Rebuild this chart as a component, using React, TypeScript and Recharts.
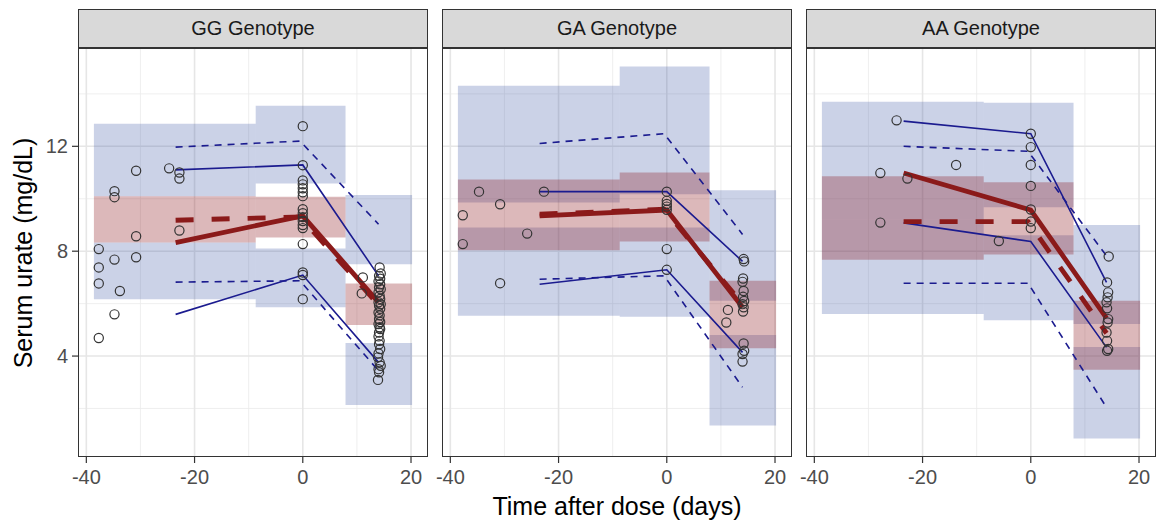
// Faceted VPC panels (GG / GA / AA genotype): serum urate vs time after dose.
// Blue boxes = CI of 5th/95th percentiles, red = CI of median; lines = obs (solid) / sim (dashed).

import {
  ComposedChart, XAxis, YAxis, CartesianGrid, ReferenceArea, Line, Scatter,
} from "recharts";

const FONT = '"Liberation Sans", Arial, Helvetica, sans-serif';
const BLUE_FILL = "#2E4A9E";
const RED_FILL = "#8C1419";
const LINE_RED = "#8B1A1A";
const LINE_BLUE = "#1B1B8F";

const X_DOMAIN = [-41.54, 23.14];
const Y_DOMAIN = [0.15, 15.75];
const X_TICKS = [-40, -20, 0, 20];
const Y_TICKS = [4, 8, 12];
const X_MINOR = [-30, -10, 10];
const Y_MINOR = [2, 6, 10, 14];

// bin edges shared by all panels
const BIN_EDGES = [-38.6, -8.7, 7.9, 20.2];

// x of the percentile line vertices
const OBS_TIMES = [-23.5, 0, 14];
const SIM_TIMES = [-23.5, -0.5, 14];

// ---- GG ----
const ggUpperBand = [[12.86, 10.1], [13.55, 10.58], [10.14, 7.5]];
const ggMedianBand = [[10.1, 8.33], [10.08, 8.52], [6.77, 5.18]];
const ggLowerBand = [[8.33, 6.17], [8.1, 5.86], [4.5, 2.13]];
const ggObsP95 = [11.1, 11.29, 7.06];
const ggObsP50 = [8.33, 9.35, 6.05];
const ggObsP05 = [5.59, 7.09, 3.76];
const ggSimP95 = [11.97, 12.2, 9.03];
const ggSimP50 = [9.18, 9.31, 5.95];
const ggSimP05 = [6.82, 6.87, 3.44];
const ggObs = [
  [-37.7, 4.69], [-37.7, 6.77], [-37.7, 7.38], [-37.7, 8.08],
  [-34.8, 10.29], [-34.8, 10.06], [-34.8, 7.68], [-34.8, 5.59], [-33.8, 6.48],
  [-30.8, 11.07], [-30.8, 8.57], [-30.8, 7.77],
  [-24.7, 11.16], [-22.8, 11.0], [-22.8, 10.77], [-22.8, 8.79],
  [0, 12.77], [0, 11.28], [0, 10.7], [0, 10.55], [0, 10.4], [0, 10.25], [0, 10.1],
  [0, 9.6], [0, 9.45], [0, 9.3], [0, 9.15], [0, 9.0], [0, 8.88], [0, 8.27],
  [0, 7.19], [0, 7.09], [0, 6.17],
  [11.1, 7.0], [10.9, 6.39],
  [14.2, 7.38], [14.4, 7.15], [14.1, 7.06], [14.3, 6.95], [14.0, 6.85], [14.3, 6.74],
  [14.1, 6.62], [14.4, 6.55], [14.0, 6.43], [14.2, 6.3], [14.3, 6.18], [14.0, 6.05],
  [14.4, 5.98], [14.1, 5.92], [14.3, 5.8], [14.0, 5.66], [14.2, 5.55], [14.1, 5.41],
  [14.3, 5.3], [14.0, 5.22], [14.2, 5.1], [14.3, 5.03], [14.1, 4.9], [14.0, 4.75],
  [14.2, 4.58], [14.1, 4.45], [14.3, 4.27], [14.0, 4.1], [13.9, 3.95], [14.2, 3.76],
  [14.4, 3.63], [14.0, 3.5], [14.1, 3.38], [13.9, 3.09],
];

// ---- GA ----
const gaUpperBand = [[14.31, 9.86], [15.04, 10.17], [10.32, 6.11]];
const gaMedianBand = [[10.73, 8.04], [11.0, 8.37], [6.87, 4.3]];
const gaLowerBand = [[8.9, 5.54], [8.9, 5.5], [4.8, 1.35]];
const gaObsP95 = [10.27, 10.27, 7.61];
const gaObsP50 = [9.35, 9.57, 5.86];
const gaObsP05 = [6.74, 7.29, 4.14];
const gaSimP95 = [12.11, 12.48, 8.64];
const gaSimP50 = [9.41, 9.6, 5.98];
const gaSimP05 = [6.93, 7.06, 2.81];
const gaObs = [
  [-37.7, 9.37], [-37.7, 8.27], [-34.7, 10.27], [-30.8, 9.79], [-30.8, 6.78],
  [-25.8, 8.67], [-22.7, 10.27],
  [0, 10.27], [0, 9.92], [0, 9.8], [0, 9.7], [0, 9.58], [0, 8.08], [0, 7.29],
  [11.3, 5.76], [11.0, 5.28],
  [14.2, 7.7], [14.3, 7.61], [14.1, 6.96], [14.0, 6.83], [14.2, 6.48], [14.1, 6.26],
  [14.3, 6.1], [14.0, 5.98], [14.2, 5.86], [14.1, 5.7], [14.2, 4.48], [14.3, 4.2],
  [14.0, 4.08], [14.0, 3.79],
];

// ---- AA ----
const aaUpperBand = [[13.7, 9.2], [13.66, 9.68], [9.0, 5.22]];
const aaMedianBand = [[10.86, 7.67], [10.63, 7.87], [6.11, 3.48]];
const aaLowerBand = [[9.2, 5.6], [8.61, 5.37], [4.35, 0.86]];
const aaObsP95 = [12.96, 12.48, 6.81];
const aaObsP50 = [10.98, 9.57, 5.45];
const aaObsP05 = [9.08, 8.37, 4.33];
const aaSimP95 = [12.0, 11.81, 7.82];
const aaSimP50 = [9.13, 9.13, 4.87];
const aaSimP05 = [6.78, 6.78, 2.04];
const aaObs = [
  [-24.8, 12.99], [-27.8, 10.98], [-27.8, 9.09], [-22.8, 10.77], [-13.8, 11.29],
  [-5.9, 8.39],
  [0, 12.48], [0, 11.97], [0, 11.29], [0, 10.49], [0, 9.59], [0, 9.13], [0, 8.88],
  [14.4, 7.8], [14.1, 6.81], [14.3, 6.43], [14.2, 6.24], [14.0, 6.05], [14.1, 5.82],
  [14.3, 5.41], [14.2, 5.28], [14.0, 4.9], [14.1, 4.58], [14.3, 4.27], [14.1, 4.2],
];

const PANELS = [
  { title: "GG Genotype", upper: ggUpperBand, median: ggMedianBand, lower: ggLowerBand, obs: ggObs,
    lines: [ggObsP95, ggObsP50, ggObsP05, ggSimP95, ggSimP50, ggSimP05] },
  { title: "GA Genotype", upper: gaUpperBand, median: gaMedianBand, lower: gaLowerBand, obs: gaObs,
    lines: [gaObsP95, gaObsP50, gaObsP05, gaSimP95, gaSimP50, gaSimP05] },
  { title: "AA Genotype", upper: aaUpperBand, median: aaMedianBand, lower: aaLowerBand, obs: aaObs,
    lines: [aaObsP95, aaObsP50, aaObsP05, aaSimP95, aaSimP50, aaSimP05] },
];

const PLOT_TOP = 48;
const PLOT_H = 409;
const PLOT_W = 350;
const PANEL_LEFT = [78, 442, 806];
const X_AXIS_H = 521 - PLOT_TOP - PLOT_H;
const SIDE = 20; // room for edge tick labels

const toPts = (times: number[], ys: number[]) => times.map((x, i) => ({ x, y: ys[i] }));

function Circle(props: any) {
  const { cx, cy } = props;
  if (cx == null || cy == null) return null;
  return <circle cx={cx} cy={cy} r={4.6} fill="none" stroke="#333" strokeWidth={1.2} />;
}

function Panel({ idx }: { idx: number }) {
  const p = PANELS[idx];
  const first = idx === 0;
  const leftSpace = first ? 78 : SIDE;
  const chartLeft = PANEL_LEFT[idx] - leftSpace;
  const width = leftSpace + PLOT_W + SIDE;
  const obsData = p.obs.map(([x, y]) => ({ x, y }));
  const [oHi, oMed, oLo, sHi, sMed, sLo] = p.lines;
  const bands: Array<[number[][], string, number]> = [
    [p.upper, BLUE_FILL, 0.25],
    [p.lower, BLUE_FILL, 0.25],
    [p.median, RED_FILL, 0.3],
  ];
  return (
    <>
      <div style={{
        position: "absolute", left: PANEL_LEFT[idx], top: 9, width: PLOT_W, height: PLOT_TOP - 9,
        boxSizing: "border-box", background: "#D9D9D9", border: "1.3px solid #333",
        display: "flex", alignItems: "center", justifyContent: "center",
        fontFamily: FONT, fontSize: 20, color: "#1A1A1A",
      }}>{p.title}</div>
      <div style={{ position: "absolute", left: chartLeft, top: 0 }}>
        <ComposedChart width={width} height={521} margin={{ top: PLOT_TOP, right: SIDE, left: first ? 0 : SIDE, bottom: 0 }}>
          <CartesianGrid stroke="#EBEBEB" strokeWidth={0.8} horizontalValues={Y_MINOR} verticalValues={X_MINOR} />
          <CartesianGrid stroke="#E6E6E6" strokeWidth={1.6} horizontalValues={Y_TICKS} verticalValues={X_TICKS} />
          <XAxis
            dataKey="x" type="number" domain={X_DOMAIN} ticks={X_TICKS} allowDataOverflow interval={0}
            height={X_AXIS_H} tickSize={6} tickMargin={7} axisLine={false}
            tickLine={{ stroke: "#333", strokeWidth: 1.2 }}
            tick={{ fill: "#4D4D4D", fontSize: 20, fontFamily: FONT }}
          />
          <YAxis
            dataKey="y" type="number" domain={Y_DOMAIN} ticks={Y_TICKS} allowDataOverflow interval={0}
            hide={!first} width={78} tickSize={6} tickMargin={4} axisLine={false}
            tickLine={{ stroke: "#333", strokeWidth: 1.2 }}
            tick={{ fill: "#4D4D4D", fontSize: 20, fontFamily: FONT }}
          />
          {bands.map(([band, fill, op], bi) =>
            band.map(([hi, lo], i) => (
              <ReferenceArea
                key={`b${bi}-${i}`} x1={BIN_EDGES[i]} x2={BIN_EDGES[i + 1]} y1={lo} y2={hi}
                fill={fill} fillOpacity={op} stroke="none" ifOverflow="hidden"
              />
            )),
          )}
          <Line data={toPts(SIM_TIMES, sHi)} dataKey="y" stroke={LINE_BLUE} strokeWidth={1.6} strokeDasharray="7 6" dot={false} isAnimationActive={false} />
          <Line data={toPts(SIM_TIMES, sLo)} dataKey="y" stroke={LINE_BLUE} strokeWidth={1.6} strokeDasharray="7 6" dot={false} isAnimationActive={false} />
          <Line data={toPts(OBS_TIMES, oHi)} dataKey="y" stroke={LINE_BLUE} strokeWidth={1.6} dot={false} isAnimationActive={false} />
          <Line data={toPts(OBS_TIMES, oLo)} dataKey="y" stroke={LINE_BLUE} strokeWidth={1.6} dot={false} isAnimationActive={false} />
          <Line data={toPts(SIM_TIMES, sMed)} dataKey="y" stroke={LINE_RED} strokeWidth={4.8} strokeDasharray="18 18" dot={false} isAnimationActive={false} />
          <Line data={toPts(OBS_TIMES, oMed)} dataKey="y" stroke={LINE_RED} strokeWidth={4.8} dot={false} isAnimationActive={false} />
          <Scatter data={obsData} dataKey="y" shape={Circle} isAnimationActive={false} />
        </ComposedChart>
      </div>
      <div style={{
        position: "absolute", left: PANEL_LEFT[idx], top: PLOT_TOP, width: PLOT_W, height: PLOT_H,
        boxSizing: "border-box", border: "1.3px solid #333", pointerEvents: "none",
      }} />
    </>
  );
}

export default function App() {
  return (
    <div style={{ position: "absolute", left: 0, top: 0, width: 1160, height: 521, background: "#fff", overflow: "hidden" }}>
      {PANELS.map((_, i) => <Panel key={i} idx={i} />)}
      <div style={{
        position: "absolute", left: 23, top: 253, transform: "translate(-50%, -50%) rotate(-90deg)",
        whiteSpace: "nowrap", fontFamily: FONT, fontSize: 25, color: "#000",
      }}>Serum urate (mg/dL)</div>
      <div style={{
        position: "absolute", left: 617, top: 506, transform: "translate(-50%, -50%)",
        whiteSpace: "nowrap", fontFamily: FONT, fontSize: 25, color: "#000",
      }}>Time after dose (days)</div>
    </div>
  );
}
